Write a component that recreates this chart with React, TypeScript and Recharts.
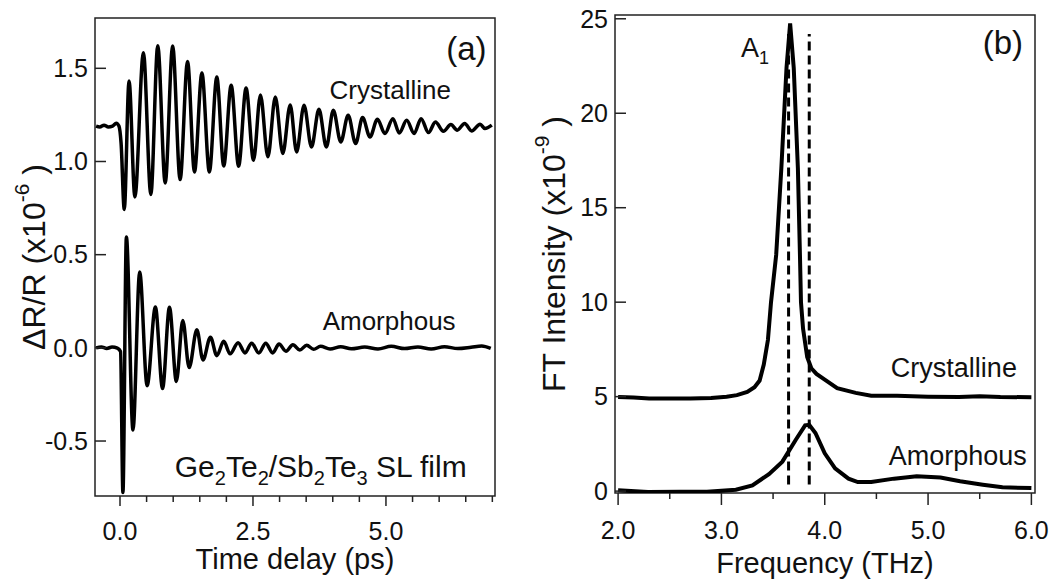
import React from "react";
import { Line, LineChart, ReferenceArea, ReferenceDot, ReferenceLine, XAxis, YAxis } from "recharts";

const FONT = "'Liberation Sans', Arial, Helvetica, sans-serif";
const INK = "#111";
const FRAME = "#222";

// (a) time domain: extrema of the traces (ps, x10^-6)
const crystallineTime = [
  -0.45, -0.38, -0.3, -0.22, -0.14, -0.07, -0.02, 0.02, 0.08, 0.17, 0.28, 0.44, 0.58, 0.71, 0.85, 0.99, 1.13, 1.27, 1.4,
  1.54, 1.68, 1.82, 1.95, 2.09, 2.23, 2.37, 2.51, 2.64, 2.78, 2.92, 3.06, 3.2, 3.32, 3.46, 3.6, 3.74, 3.88, 4.01, 4.15,
  4.29, 4.43, 4.56, 4.7, 4.84, 4.98, 5.13, 5.25, 5.39, 5.53, 5.66, 5.8, 5.93, 6.08, 6.22, 6.34, 6.48, 6.61, 6.77, 6.86, 6.99,
];
const crystallineSignal = [
  1.19, 1.185, 1.195, 1.185, 1.19, 1.205, 1.19, 1.1, 0.743, 1.432, 0.81, 1.584, 0.823, 1.621, 0.885, 1.62, 0.903, 1.537,
  0.944, 1.475, 0.944, 1.453, 0.976, 1.409, 0.975, 1.394, 1.007, 1.357, 1.025, 1.346, 1.043, 1.303, 1.051, 1.302, 1.078,
  1.28, 1.078, 1.275, 1.105, 1.248, 1.096, 1.236, 1.132, 1.227, 1.15, 1.23, 1.153, 1.221, 1.15, 1.23, 1.155, 1.212, 1.162,
  1.198, 1.168, 1.204, 1.164, 1.2, 1.177, 1.195,
];
const amorphousTime = [
  -0.45, -0.35, -0.25, -0.15, -0.05, 0.01, 0.055, 0.12, 0.244, 0.37, 0.51, 0.665, 0.8, 0.93, 1.06, 1.18, 1.3, 1.445, 1.56,
  1.7, 1.82, 1.95, 2.07, 2.22, 2.35, 2.475, 2.61, 2.74, 2.87, 2.99, 3.12, 3.25, 3.38, 3.51, 3.64, 3.77, 3.95, 4.15, 4.35,
  4.6, 4.85, 5.1, 5.35, 5.6, 5.85, 6.1, 6.35, 6.6, 6.8, 6.97,
];
const amorphousSignal = [
  0.0, 0.005, -0.003, 0.004, -0.002, -0.02, -0.776, 0.595, -0.441, 0.407, -0.203, 0.219, -0.218, 0.218, -0.18, 0.147,
  -0.106, 0.097, -0.065, 0.057, -0.042, 0.035, -0.032, 0.028, -0.027, 0.025, -0.027, 0.025, -0.027, 0.02, -0.018, 0.017,
  -0.012, 0.014, -0.008, 0.008, -0.006, 0.006, -0.005, 0.004, -0.006, 0.008, -0.004, 0.005, -0.006, 0.006, -0.004, 0.003,
  0.01, -0.003,
];
const timeTicks = [0, 0.5, 1, 1.5, 2, 2.5, 3, 3.5, 4, 4.5, 5, 5.5, 6, 6.5, 7];
const timeLabels = [0, 2.5, 5];
const signalTicks = [-0.5, 0, 0.5, 1, 1.5];

// (b) Fourier spectra (THz, x10^-9)
const crystallineFreq = [
  2.0, 2.15, 2.3, 2.5, 2.7, 2.9, 3.05, 3.15, 3.25, 3.32, 3.37, 3.41, 3.45, 3.48, 3.53, 3.58, 3.63, 3.665, 3.7, 3.74, 3.76,
  3.77, 3.79, 3.83, 3.87, 3.92, 4.0, 4.12, 4.3, 4.45, 4.7, 5.0, 5.3, 5.5, 5.7, 6.0,
];
const crystallineFT = [
  4.98, 4.95, 4.9, 4.9, 4.9, 4.93, 5.0, 5.08, 5.25, 5.5, 5.85, 6.7, 8.0, 10.0, 12.5, 17.1, 22.4, 24.75, 22.4, 17.1, 12.5,
  10.0, 8.6, 7.1, 6.5, 6.2, 5.9, 5.45, 5.2, 5.05, 5.05, 5.0, 4.98, 5.02, 4.98, 4.97,
];
const amorphousFreq = [
  2.0, 2.29, 2.6, 2.86, 3.14, 3.3, 3.46, 3.59, 3.72, 3.81, 3.85, 3.91, 4.0, 4.1, 4.23, 4.32, 4.45, 4.67, 4.89, 5.12, 5.31,
  5.53, 5.72, 6.0,
];
const amorphousFT = [
  0.04, -0.05, -0.03, -0.04, 0.07, 0.3, 0.9, 1.56, 2.72, 3.48, 3.51, 3.08, 2.0, 1.2, 0.66, 0.48, 0.48, 0.66, 0.79, 0.72,
  0.52, 0.34, 0.2, 0.16,
];
const freqTicks = [2, 2.5, 3, 3.5, 4, 4.5, 5, 5.5, 6];
const freqLabels = [2, 3, 4, 5, 6];
const ftTicks = [0, 5, 10, 15, 20, 25];
const modeFreqs = [3.65, 3.85];
const modeSpan = [0.35, 24.2];

const timeDomain = [-0.47, 7.05];
const signalDomain = [-0.795, 1.77];
const freqDomain = [1.97, 6.035];
const ftDomain = [-0.1, 25.2];

const zip = (xs: number[], ys: number[], kx: string, ky: string) => xs.map((x, i) => ({ [kx]: x, [ky]: ys[i] }));
const crystallineTrace = zip(crystallineTime, crystallineSignal, "t", "v");
const amorphousTrace = zip(amorphousTime, amorphousSignal, "t", "v");
const crystallineSpectrum = zip(crystallineFreq, crystallineFT, "f", "i");
const amorphousSpectrum = zip(amorphousFreq, amorphousFT, "f", "i");

type Part = [string, "sub" | "sup" | ""];

function partsToSpans(parts: Part[], size: number) {
  const small = Math.round(size * 0.65);
  const shift = { sub: Math.round(size * 0.25), sup: -Math.round(size * 0.5), "": 0 };
  let level = 0;
  return parts.map(([str, kind], i) => {
    const dy = shift[kind] - level;
    level = shift[kind];
    return (
      <tspan key={i} dy={dy || undefined} fontSize={kind ? small : size}>
        {str}
      </tspan>
    );
  });
}

function Note(props: any) {
  const { viewBox, parts, size = 26, anchor = "start" } = props;
  if (!viewBox) return null;
  return (
    <text x={viewBox.x} y={viewBox.y} fontSize={size} fontFamily={FONT} fill={INK} textAnchor={anchor}>
      {partsToSpans(parts, size)}
    </text>
  );
}

function YTitle(props: any) {
  const { viewBox, parts, dx } = props;
  if (!viewBox) return null;
  const cx = viewBox.x + dx;
  const cy = viewBox.y + viewBox.height / 2;
  return (
    <text x={cx} y={cy} transform={`rotate(-90, ${cx}, ${cy})`} textAnchor="middle" fontSize={32} fontFamily={FONT} fill={INK}>
      {partsToSpans(parts, 32)}
    </text>
  );
}

function XTitle(props: any) {
  const { viewBox, text, dy } = props;
  if (!viewBox) return null;
  return (
    <text x={viewBox.x + viewBox.width / 2} y={viewBox.y + dy} textAnchor="middle" fontSize={29} fontFamily={FONT} fill={INK}>
      {text}
    </text>
  );
}

function BottomTick(props: any) {
  const { x, y, payload, labels, majorLen, minorLen, gap } = props;
  const major = labels.includes(payload.value);
  return (
    <g>
      <line x1={x} x2={x} y1={y} y2={y + (major ? majorLen : minorLen)} stroke={FRAME} strokeWidth={1.5} />
      {major && (
        <text x={x} y={y + gap} textAnchor="middle" fontSize={25} fontFamily={FONT} fill={INK}>
          {Number(payload.value).toFixed(1)}
        </text>
      )}
    </g>
  );
}

function LeftTick(props: any) {
  const { x, y, payload, digits } = props;
  return (
    <g>
      <line x1={x} x2={x + 11} y1={y} y2={y} stroke={FRAME} strokeWidth={1.5} />
      <text x={x - 7} y={y} dy="0.35em" textAnchor="end" fontSize={25} fontFamily={FONT} fill={INK}>
        {Number(payload.value).toFixed(digits)}
      </text>
    </g>
  );
}

function TimePanel() {
  return (
    <LineChart width={520} height={586} margin={{ top: 18, right: 25, left: 0, bottom: 0 }}>
      <XAxis
        type="number"
        dataKey="t"
        domain={timeDomain}
        ticks={timeTicks}
        allowDataOverflow
        axisLine={false}
        tickLine={false}
        tickSize={0}
        tickMargin={0}
        height={90}
        interval={0}
        tick={(p: any) => <BottomTick {...p} labels={timeLabels} majorLen={10} minorLen={6} gap={44} />}
        label={<XTitle text="Time delay (ps)" dy={73} />}
      />
      <YAxis
        type="number"
        domain={signalDomain}
        ticks={signalTicks}
        allowDataOverflow
        axisLine={false}
        tickLine={false}
        tickSize={0}
        tickMargin={0}
        width={95}
        interval={0}
        tick={(p: any) => <LeftTick {...p} digits={1} />}
        label={<YTitle dx={45} parts={[["ΔR/R (x10", ""], ["-6", "sup"], [" )", ""]]} />}
      />
      <ReferenceArea
        x1={timeDomain[0]}
        x2={timeDomain[1]}
        y1={signalDomain[0]}
        y2={signalDomain[1]}
        fill="none"
        stroke={FRAME}
        strokeWidth={1.5}
        ifOverflow="visible"
      />
      <Line data={crystallineTrace} dataKey="v" type="monotone" stroke="#000" strokeWidth={3.5} dot={false} isAnimationActive={false} />
      <Line data={amorphousTrace} dataKey="v" type="monotone" stroke="#000" strokeWidth={3.5} dot={false} isAnimationActive={false} />
      <ReferenceDot x={3.94} y={1.334} r={0} stroke="none" label={<Note parts={[["Crystalline", ""]]} size={26} />} />
      <ReferenceDot x={3.81} y={0.096} r={0} stroke="none" label={<Note parts={[["Amorphous", ""]]} size={26} />} />
      <ReferenceDot
        x={1.03}
        y={-0.691}
        r={0}
        stroke="none"
        label={
          <Note
            size={30}
            parts={[["Ge", ""], ["2", "sub"], ["Te", ""], ["2", "sub"], ["/Sb", ""], ["2", "sub"], ["Te", ""], ["3", "sub"], [" SL film", ""]]}
          />
        }
      />
      <ReferenceDot x={6.89} y={1.545} r={0} stroke="none" label={<Note parts={[["(a)", ""]]} size={33} anchor="end" />} />
    </LineChart>
  );
}

function SpectrumPanel() {
  return (
    <LineChart width={534} height={586} margin={{ top: 15, right: 29, left: 0, bottom: 0 }}>
      <XAxis
        type="number"
        dataKey="f"
        domain={freqDomain}
        ticks={freqTicks}
        allowDataOverflow
        axisLine={false}
        tickLine={false}
        tickSize={0}
        tickMargin={0}
        height={93}
        interval={0}
        tick={(p: any) => <BottomTick {...p} labels={freqLabels} majorLen={12} minorLen={6} gap={46} />}
        label={<XTitle text="Frequency (THz)" dy={80} />}
      />
      <YAxis
        type="number"
        domain={ftDomain}
        ticks={ftTicks}
        allowDataOverflow
        axisLine={false}
        tickLine={false}
        tickSize={0}
        tickMargin={0}
        width={85}
        interval={0}
        tick={(p: any) => <LeftTick {...p} digits={0} />}
        label={<YTitle dx={35} parts={[["FT Intensity (x10", ""], ["-9", "sup"], [" )", ""]]} />}
      />
      <ReferenceArea
        x1={freqDomain[0]}
        x2={freqDomain[1]}
        y1={ftDomain[0]}
        y2={ftDomain[1]}
        fill="none"
        stroke={FRAME}
        strokeWidth={1.5}
        ifOverflow="visible"
      />
      {modeFreqs.map((f) => (
        <ReferenceLine
          key={f}
          segment={[
            { x: f, y: modeSpan[0] },
            { x: f, y: modeSpan[1] },
          ]}
          stroke="#000"
          strokeWidth={3}
          strokeDasharray="9 5"
        />
      ))}
      <Line data={crystallineSpectrum} dataKey="i" type="linear" stroke="#000" strokeWidth={4} dot={false} isAnimationActive={false} />
      <Line data={amorphousSpectrum} dataKey="i" type="linear" stroke="#000" strokeWidth={4} dot={false} isAnimationActive={false} />
      <ReferenceDot x={3.19} y={22.98} r={0} stroke="none" label={<Note parts={[["A", ""], ["1", "sub"]]} size={27} />} />
      <ReferenceDot x={5.92} y={23.16} r={0} stroke="none" label={<Note parts={[["(b)", ""]]} size={33} anchor="end" />} />
      <ReferenceDot x={4.64} y={6.04} r={0} stroke="none" label={<Note parts={[["Crystalline", ""]]} size={27} />} />
      <ReferenceDot x={4.62} y={1.38} r={0} stroke="none" label={<Note parts={[["Amorphous", ""]]} size={27} />} />
    </LineChart>
  );
}

export default function App() {
  return (
    <div style={{ position: "absolute", left: 0, top: 0, width: 1064, height: 586, background: "#fff", fontFamily: FONT }}>
      <div style={{ position: "absolute", left: 0, top: 0 }}>
        <TimePanel />
      </div>
      <div style={{ position: "absolute", left: 530, top: 0 }}>
        <SpectrumPanel />
      </div>
    </div>
  );
}
